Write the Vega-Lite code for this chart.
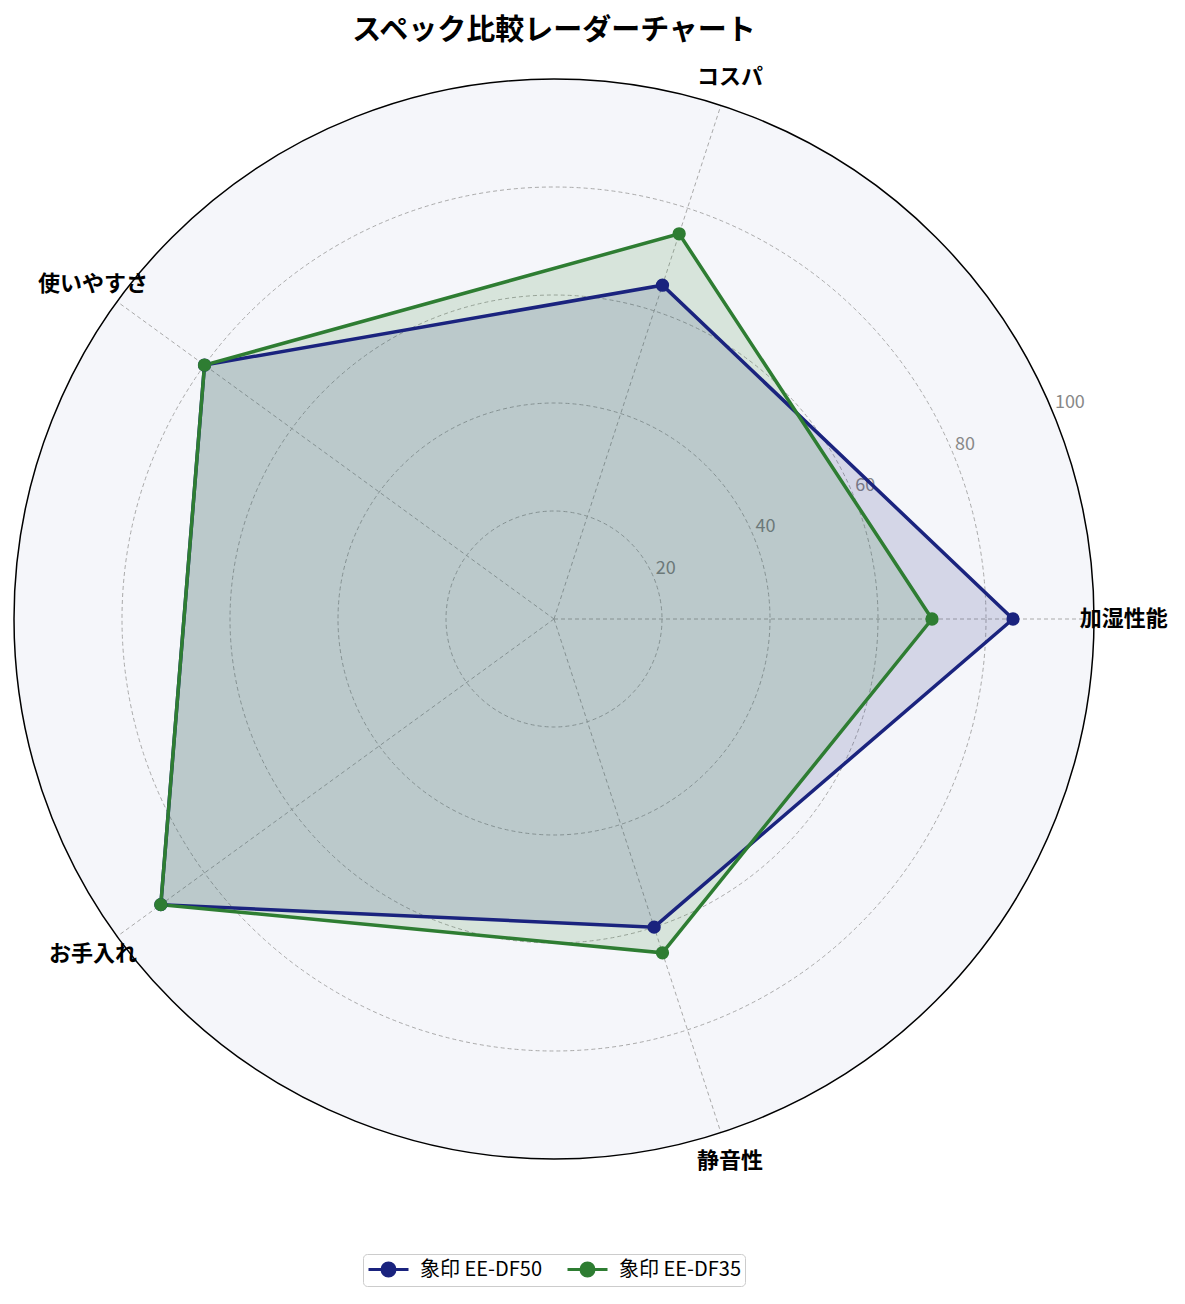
{
  "$schema": "https://vega.github.io/schema/vega-lite/v6.json",
  "width": 1080,
  "height": 1080,
  "autosize": {"type": "none"},
  "padding": {"left": 14, "top": 79, "right": 91, "bottom": 145},
  "background": "white",
  "title": {"text": "スペック比較レーダーチャート", "fontSize": 29, "fontWeight": "bold", "font": "Noto Sans CJK JP", "color": "black", "anchor": "middle", "offset": 20},
  "config": {"view": {"stroke": null}, "font": "Noto Sans CJK JP", "legend": {"layout": {"bottom": {"anchor": "middle"}}}},
  "datasets": {
    "scores": [
      {"model": "象印 EE-DF50", "axis": "加湿性能", "order": 0, "score": 85},
      {"model": "象印 EE-DF50", "axis": "コスパ", "order": 1, "score": 65},
      {"model": "象印 EE-DF50", "axis": "使いやすさ", "order": 2, "score": 80},
      {"model": "象印 EE-DF50", "axis": "お手入れ", "order": 3, "score": 90},
      {"model": "象印 EE-DF50", "axis": "静音性", "order": 4, "score": 60},
      {"model": "象印 EE-DF35", "axis": "加湿性能", "order": 0, "score": 70},
      {"model": "象印 EE-DF35", "axis": "コスパ", "order": 1, "score": 75},
      {"model": "象印 EE-DF35", "axis": "使いやすさ", "order": 2, "score": 80},
      {"model": "象印 EE-DF35", "axis": "お手入れ", "order": 3, "score": 90},
      {"model": "象印 EE-DF35", "axis": "静音性", "order": 4, "score": 65}
    ],
    "axes": [
      {"axis": "加湿性能", "order": 0},
      {"axis": "コスパ", "order": 1},
      {"axis": "使いやすさ", "order": 2},
      {"axis": "お手入れ", "order": 3},
      {"axis": "静音性", "order": 4}
    ],
    "rings": [{"r": 20}, {"r": 40}, {"r": 60}, {"r": 80}, {"r": 100}]
  },
  "layer": [
    {
      "data": {"values": [{"r": 100}]},
      "transform": [{"calculate": "0", "as": "cx"}, {"calculate": "0", "as": "cy"}],
      "mark": {"type": "point", "shape": "circle", "filled": true, "fill": "#f5f6fa", "opacity": 1, "strokeWidth": 0},
      "encoding": {
        "x": {"field": "cx", "type": "quantitative", "scale": {"domain": [-100, 100], "nice": false, "zero": false}, "axis": null},
        "y": {"field": "cy", "type": "quantitative", "scale": {"domain": [-100, 100], "nice": false, "zero": false}, "axis": null},
        "size": {"field": "r", "type": "quantitative", "scale": {"type": "pow", "exponent": 2, "domain": [0, 100], "range": [0, 1166400]}, "legend": null}
      }
    },
    {
      "data": {"name": "rings"},
      "transform": [{"filter": "datum.r < 100"}, {"calculate": "0", "as": "cx"}, {"calculate": "0", "as": "cy"}],
      "mark": {"type": "point", "shape": "circle", "filled": false, "stroke": "#aaaaaa", "opacity": 1, "strokeWidth": 1, "strokeDash": [4, 3]},
      "encoding": {
        "x": {"field": "cx", "type": "quantitative", "scale": {"domain": [-100, 100], "nice": false, "zero": false}, "axis": null},
        "y": {"field": "cy", "type": "quantitative", "scale": {"domain": [-100, 100], "nice": false, "zero": false}, "axis": null},
        "size": {"field": "r", "type": "quantitative", "scale": {"type": "pow", "exponent": 2, "domain": [0, 100], "range": [0, 1166400]}, "legend": null}
      }
    },
    {
      "data": {"name": "axes"},
      "transform": [
        {"calculate": "datum.order * 2 * PI / 5", "as": "angle"},
        {"calculate": "0", "as": "cx"},
        {"calculate": "0", "as": "cy"},
        {"calculate": "100 * cos(datum.angle)", "as": "ex"},
        {"calculate": "100 * sin(datum.angle)", "as": "ey"}
      ],
      "mark": {"type": "rule", "stroke": "#aaaaaa", "strokeWidth": 1, "strokeDash": [4, 3]},
      "encoding": {
        "x": {"field": "cx", "type": "quantitative", "scale": {"domain": [-100, 100], "nice": false, "zero": false}, "axis": null},
        "y": {"field": "cy", "type": "quantitative", "scale": {"domain": [-100, 100], "nice": false, "zero": false}, "axis": null},
        "x2": {"field": "ex"},
        "y2": {"field": "ey"}
      }
    },
    {
      "data": {"name": "rings"},
      "transform": [
        {"calculate": "datum.r * cos(PI / 8)", "as": "lx"},
        {"calculate": "datum.r * sin(PI / 8)", "as": "ly"}
      ],
      "mark": {"type": "text", "align": "left", "baseline": "bottom", "dx": 2, "fontSize": 18, "color": "#888888"},
      "encoding": {
        "x": {"field": "lx", "type": "quantitative", "scale": {"domain": [-100, 100], "nice": false, "zero": false}, "axis": null},
        "y": {"field": "ly", "type": "quantitative", "scale": {"domain": [-100, 100], "nice": false, "zero": false}, "axis": null},
        "text": {"field": "r", "type": "quantitative"}
      }
    },
    {
      "data": {"name": "scores"},
      "transform": [
        {"filter": "datum.model === '象印 EE-DF50'"},
        {"calculate": "datum.order * 2 * PI / 5", "as": "angle"},
        {"calculate": "datum.score * cos(datum.angle)", "as": "px"},
        {"calculate": "datum.score * sin(datum.angle)", "as": "py"}
      ],
      "mark": {"type": "line", "interpolate": "linear-closed", "strokeOpacity": 0, "fill": "#1a237e", "fillOpacity": 0.15},
      "encoding": {
        "x": {"field": "px", "type": "quantitative", "scale": {"domain": [-100, 100], "nice": false, "zero": false}, "axis": null},
        "y": {"field": "py", "type": "quantitative", "scale": {"domain": [-100, 100], "nice": false, "zero": false}, "axis": null},
        "order": {"field": "order", "type": "quantitative"}
      }
    },
    {
      "data": {"name": "scores"},
      "transform": [
        {"filter": "datum.model === '象印 EE-DF35'"},
        {"calculate": "datum.order * 2 * PI / 5", "as": "angle"},
        {"calculate": "datum.score * cos(datum.angle)", "as": "px"},
        {"calculate": "datum.score * sin(datum.angle)", "as": "py"}
      ],
      "mark": {"type": "line", "interpolate": "linear-closed", "strokeOpacity": 0, "fill": "#2e7d32", "fillOpacity": 0.15},
      "encoding": {
        "x": {"field": "px", "type": "quantitative", "scale": {"domain": [-100, 100], "nice": false, "zero": false}, "axis": null},
        "y": {"field": "py", "type": "quantitative", "scale": {"domain": [-100, 100], "nice": false, "zero": false}, "axis": null},
        "order": {"field": "order", "type": "quantitative"}
      }
    },
    {
      "data": {"name": "scores"},
      "transform": [
        {"calculate": "datum.order * 2 * PI / 5", "as": "angle"},
        {"calculate": "datum.score * cos(datum.angle)", "as": "px"},
        {"calculate": "datum.score * sin(datum.angle)", "as": "py"}
      ],
      "mark": {"type": "line", "interpolate": "linear-closed", "strokeWidth": 3.5},
      "encoding": {
        "x": {"field": "px", "type": "quantitative", "scale": {"domain": [-100, 100], "nice": false, "zero": false}, "axis": null},
        "y": {"field": "py", "type": "quantitative", "scale": {"domain": [-100, 100], "nice": false, "zero": false}, "axis": null},
        "order": {"field": "order", "type": "quantitative"},
        "color": {
          "field": "model", "type": "nominal",
          "scale": {"domain": ["象印 EE-DF50", "象印 EE-DF35"], "range": ["#1a237e", "#2e7d32"]},
          "legend": {
            "title": null, "orient": "bottom", "offset": 95, "direction": "horizontal",
            "symbolType": "M-2,0L2,0M0.65,0A0.65,0.65,0,1,1,-0.65,0A0.65,0.65,0,1,1,0.65,0Z",
            "symbolSize": 400, "symbolStrokeWidth": 3, "symbolOffset": 10,
            "labelFontSize": 20, "labelFont": "Noto Sans CJK JP", "labelColor": "black", "labelOffset": 20,
            "columnPadding": 19, "padding": 4, "strokeColor": "#cccccc", "cornerRadius": 4, "fillColor": "white",
            "encode": {"symbols": {"update": {"fill": {"scale": "color", "field": "value"}, "stroke": {"scale": "color", "field": "value"}, "opacity": {"value": 1}}}}
          }
        }
      }
    },
    {
      "data": {"name": "scores"},
      "transform": [
        {"calculate": "datum.order * 2 * PI / 5", "as": "angle"},
        {"calculate": "datum.score * cos(datum.angle)", "as": "px"},
        {"calculate": "datum.score * sin(datum.angle)", "as": "py"}
      ],
      "mark": {"type": "point", "shape": "circle", "filled": true, "size": 177, "opacity": 1},
      "encoding": {
        "x": {"field": "px", "type": "quantitative", "scale": {"domain": [-100, 100], "nice": false, "zero": false}, "axis": null},
        "y": {"field": "py", "type": "quantitative", "scale": {"domain": [-100, 100], "nice": false, "zero": false}, "axis": null},
        "color": {"field": "model", "type": "nominal", "scale": {"domain": ["象印 EE-DF50", "象印 EE-DF35"], "range": ["#1a237e", "#2e7d32"]}}
      }
    },
    {
      "data": {"name": "axes"},
      "transform": [
        {"calculate": "datum.order * 2 * PI / 5", "as": "angle"},
        {"calculate": "105.5 * cos(datum.angle)", "as": "tx"},
        {"calculate": "105.5 * sin(datum.angle)", "as": "ty"}
      ],
      "mark": {"type": "text", "align": "center", "baseline": "middle", "fontSize": 22, "fontWeight": "bold", "color": "black", "font": "Noto Sans CJK JP"},
      "encoding": {
        "x": {"field": "tx", "type": "quantitative", "scale": {"domain": [-100, 100], "nice": false, "zero": false}, "axis": null},
        "y": {"field": "ty", "type": "quantitative", "scale": {"domain": [-100, 100], "nice": false, "zero": false}, "axis": null},
        "text": {"field": "axis", "type": "nominal"}
      }
    },
    {
      "data": {"values": [{"r": 100}]},
      "transform": [{"calculate": "0", "as": "cx"}, {"calculate": "0", "as": "cy"}],
      "mark": {"type": "point", "shape": "circle", "filled": false, "stroke": "black", "opacity": 1, "strokeWidth": 1.5},
      "encoding": {
        "x": {"field": "cx", "type": "quantitative", "scale": {"domain": [-100, 100], "nice": false, "zero": false}, "axis": null},
        "y": {"field": "cy", "type": "quantitative", "scale": {"domain": [-100, 100], "nice": false, "zero": false}, "axis": null},
        "size": {"field": "r", "type": "quantitative", "scale": {"type": "pow", "exponent": 2, "domain": [0, 100], "range": [0, 1166400]}, "legend": null}
      }
    }
  ]
}
